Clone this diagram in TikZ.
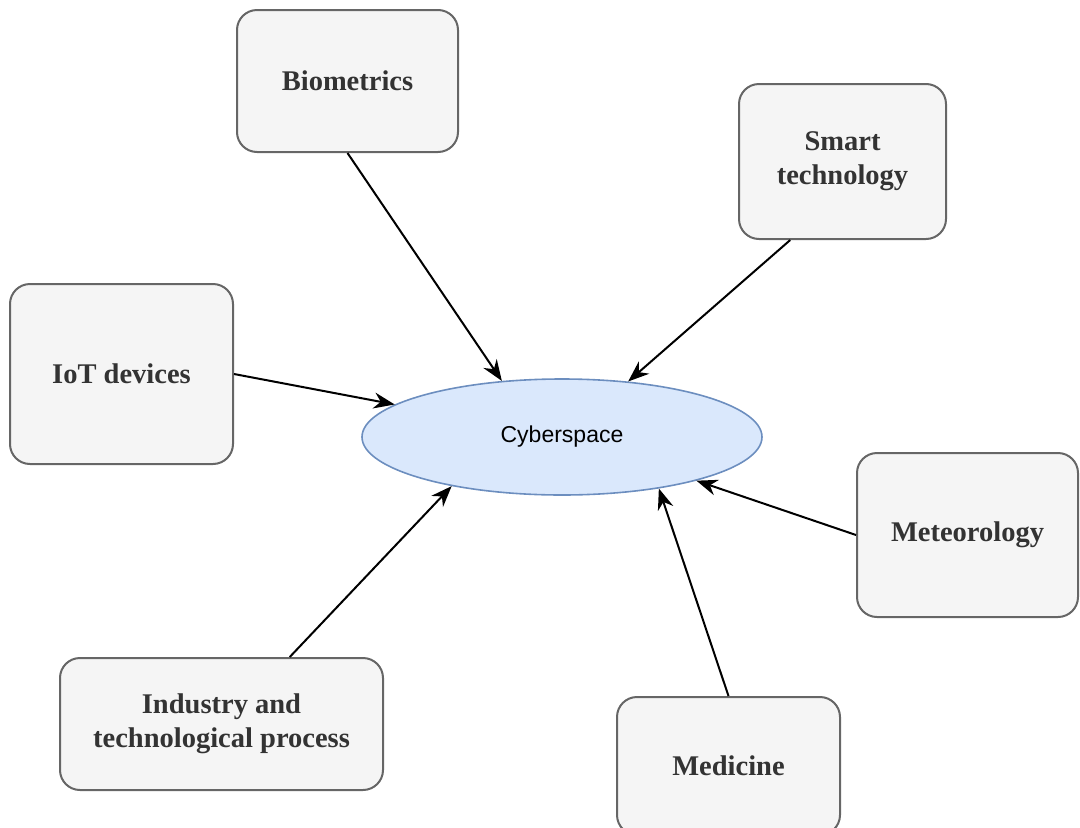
\documentclass[tikz,border=0pt]{standalone}
\usepackage{fontspec}
\setmainfont{Liberation Serif}
\newfontfamily\cyberfont{Liberation Sans}
\usetikzlibrary{shapes.geometric,arrows.meta,calc}
\definecolor{boxfill}{HTML}{F5F5F5}
\definecolor{boxline}{HTML}{666666}
\definecolor{boxtext}{HTML}{333333}
\definecolor{cyberfill}{HTML}{DAE8FC}
\definecolor{cyberline}{HTML}{6C8EBF}

\begin{document}
\begin{tikzpicture}[x=1pt,y=-1pt]
  \tikzset{topic box/.style 2 args={draw=boxline,fill=boxfill,line width=2pt,rounded corners=20pt,text=boxtext,font=\fontsize{28.5}{34}\selectfont\bfseries,align=center,inner sep=0pt,minimum width=#1,minimum height=#2},
    cyber/.style={ellipse,draw=cyberline,fill=cyberfill,line width=1.6pt,inner sep=0pt,minimum width=400pt,minimum height=116pt,font=\cyberfont\fontsize{23}{26}\selectfont},
    feed/.style={draw=black,line width=2pt,-{Stealth[length=21pt,width=16pt]}}}

  \useasboundingbox (0,0) rectangle (1080,828);
  \clip (0,0) rectangle (1080,828);

  \node [cyber] (C) at (562,437) {Cyberspace};
  \node [topic box={221pt}{142pt}] (Bio) at (347.5,81) {Biometrics};
  \node [topic box={207pt}{155pt}] (Smart) at (842.5,161.5) {Smart\\technology};
  \node [topic box={223pt}{180pt}] (IoT) at (121.5,374) {IoT devices};
  \node [topic box={221pt}{164pt}] (Met) at (967.5,535) {Meteorology};
  \node [topic box={223pt}{138pt}] (Med) at (728.5,766) {Medicine};
  \node [topic box={323pt}{132pt}] (Ind) at (221.5,724) {Industry and\\technological process};

  \draw[feed] (Bio.south) -- (C.137.5);
  \draw[feed] ($(Smart.south west)!0.25!(Smart.south east)$) -- (C.40.7);
  \draw[feed] (IoT.east) -- (C.169.3);
  \draw[feed] (Met.west) -- (C.342.3);
  \draw[feed] (Med.north) -- (C.332);
  \draw[feed] ($(Ind.north west)!0.71!(Ind.north east)$) -- (C.204.7);
\end{tikzpicture}
\end{document}
